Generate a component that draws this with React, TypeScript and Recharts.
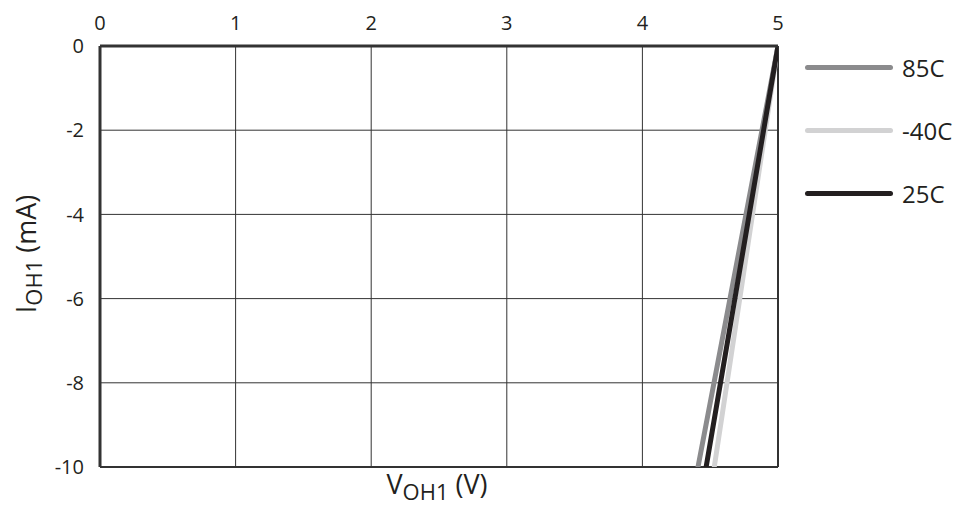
import {
  CartesianGrid,
  Label,
  Line,
  LineChart,
  ReferenceLine,
  XAxis,
  YAxis,
} from "recharts"

const FONT = "'Open Sans', 'Noto Sans', sans-serif"

const X_TICKS = [0, 1, 2, 3, 4, 5]
const Y_TICKS = [0, -2, -4, -6, -8, -10]

// V_OH1 (V) vs I_OH1 (mA), two end points per temperature
const HOT_85C = [
  { v: 5, i: 0 },
  { v: 4.41, i: -10 },
]
const COLD_M40C = [
  { v: 5, i: 0 },
  { v: 4.53, i: -10 },
]
const ROOM_25C = [
  { v: 5, i: 0 },
  { v: 4.47, i: -10 },
]

const SERIES = [
  { name: "85C", data: HOT_85C, color: "#8b8b8d" },
  { name: "-40C", data: COLD_M40C, color: "#d2d2d3" },
  { name: "25C", data: ROOM_25C, color: "#231f20" },
]

function LegendBox() {
  return (
    <div
      style={{
        position: "absolute",
        left: 805,
        top: 36,
        width: 160,
        fontFamily: FONT,
      }}
    >
      {SERIES.map((s) => (
        <div
          key={s.name}
          style={{ display: "flex", alignItems: "center", height: 63 }}
        >
          <div
            style={{
              width: 88,
              height: 5,
              borderRadius: 3,
              background: s.color,
              marginRight: 9,
            }}
          />
          <span style={{ fontSize: 24, color: "#231f20" }}>{s.name}</span>
        </div>
      ))}
    </div>
  )
}

export default function App() {
  return (
    <div
      style={{
        position: "absolute",
        left: 0,
        top: 0,
        width: 967,
        height: 510,
        background: "#fff",
      }}
    >
      <LineChart
        width={967}
        height={510}
        margin={{ top: 0, right: 189, bottom: 43, left: 0 }}
        style={{ fontFamily: FONT }}
      >
        <CartesianGrid stroke="#333" strokeWidth={1} />
        <XAxis
          type="number"
          dataKey="v"
          orientation="top"
          domain={[0, 5]}
          ticks={X_TICKS}
          height={46}
          tickLine={false}
          axisLine={{ stroke: "#333", strokeWidth: 3 }}
          tick={{ fill: "#231f20", fontSize: 20 }}
          tickMargin={10}
          allowDataOverflow
        >
          <Label
            content={() => (
              <text
                x={437}
                y={494}
                textAnchor="middle"
                fontSize={27}
                fill="#231f20"
                fontFamily={FONT}
              >
                V<tspan fontSize={22} dy={6}>OH1</tspan>
                <tspan dy={-6}> (V)</tspan>
              </text>
            )}
          />
        </XAxis>
        <YAxis
          type="number"
          domain={[-10, 0]}
          ticks={Y_TICKS}
          width={100}
          tickLine={false}
          axisLine={{ stroke: "#333", strokeWidth: 3 }}
          tick={{ fill: "#231f20", fontSize: 20 }}
          tickMargin={10}
          allowDataOverflow
        >
          <Label
            content={() => (
              <text
                x={36}
                y={254}
                textAnchor="middle"
                fontSize={27}
                fill="#231f20"
                fontFamily={FONT}
                transform="rotate(-90 36 254)"
              >
                I<tspan fontSize={22} dy={6}>OH1</tspan>
                <tspan dy={-6}> (mA)</tspan>
              </text>
            )}
          />
        </YAxis>
        <ReferenceLine x={5} stroke="#333" strokeWidth={2} />
        <ReferenceLine y={-10} stroke="#333" strokeWidth={2} />
        {SERIES.map((s) => (
          <Line
            key={s.name}
            data={s.data}
            dataKey="i"
            name={s.name}
            stroke={s.color}
            strokeWidth={5}
            strokeLinecap="round"
            dot={false}
            isAnimationActive={false}
          />
        ))}
      </LineChart>
      <LegendBox />
    </div>
  )
}
